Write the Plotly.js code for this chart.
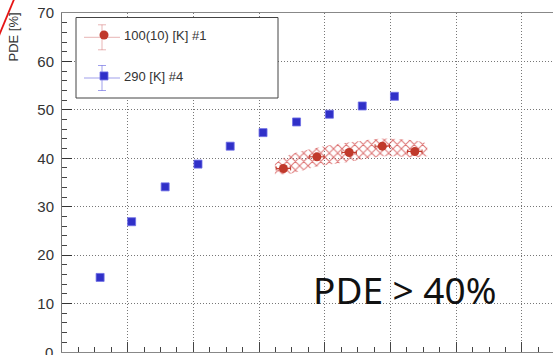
<!DOCTYPE html>
<html><head><meta charset="utf-8">
<script src="https://cdn.plot.ly/plotly-3.0.1.min.js"></script>
<style>html,body{margin:0;padding:0;overflow:hidden;background:#fff}#chart{width:553px;height:355px}</style>
</head><body><div id="chart"></div>
<script>
// ---- data ----
const seriesNames = ['100(10) [K] #1', '290 [K] #4'];
const warmX   = [0.58, 1.06, 1.57, 2.07, 2.56, 3.06, 3.57, 4.07, 4.57, 5.06];
const warmPDE = [15.4, 26.9, 34.1, 38.8, 42.5, 45.3, 47.5, 49.1, 50.8, 52.8];
const coldX    = [3.37, 3.88, 4.37, 4.875, 5.37];
const coldPDE  = [37.9, 40.3, 41.2, 42.5, 41.4];
const coldXErr = [0.11, 0.11, 0.11, 0.11, 0.11];
const coldYErr = [0.4, 0.4, 0.4, 0.4, 0.4];
const bandX    = [3.24, 3.47, 3.88, 4.38, 4.89, 5.40, 5.56];
const bandHigh = [38.9, 40.8, 42.2, 43.3, 44.1, 43.6, 43.0];
const bandLow  = [36.7, 36.8, 38.3, 39.3, 40.4, 40.2, 40.4];
const yTicks   = [10, 20, 30, 40, 50, 60, 70];
const yZeroLabel = '0';
const yTitle   = 'PDE [%]';
const note     = 'PDE > 40%';

// ---- layout helpers (pixel -> paper) ----
const W = 553, H = 355, ML = 62, MR = 0, MT = 13, MB = 3;
const PW = W - ML - MR, PH = H - MT - MB;
const px = x => (x - ML) / PW;
const py = y => (H - MB - y) / PH;

const RED = 'rgb(192,57,43)', BLUE = 'rgb(48,48,200)';
const HATCH = {shape: 'x', size: 6, solidity: 0.3, fgcolor: 'rgba(210,75,75,0.8)', bgcolor: 'rgba(0,0,0,0)'};

const traces = [
  {x: bandX, y: bandLow, type: 'scatter', mode: 'lines',
   line: {width: 0, shape: 'spline', smoothing: 0.8, color: 'rgba(0,0,0,0)'},
   showlegend: false, hoverinfo: 'skip'},
  {x: bandX, y: bandHigh, type: 'scatter', mode: 'lines', fill: 'tonexty',
   line: {width: 0, shape: 'spline', smoothing: 0.8, color: 'rgba(0,0,0,0)'},
   fillcolor: 'rgba(0,0,0,0)', fillpattern: HATCH,
   showlegend: false, hoverinfo: 'skip'},
  {x: coldX, y: coldPDE, type: 'scatter', mode: 'markers', name: seriesNames[0], legend: 'legend',
   marker: {symbol: 'circle', size: 9, color: RED},
   error_x: {type: 'data', array: coldXErr, color: RED, thickness: 1, width: 2},
   error_y: {type: 'data', array: coldYErr, color: RED, thickness: 1, width: 2}},
  {x: warmX, y: warmPDE, type: 'scatter', mode: 'markers', name: seriesNames[1], legend: 'legend2',
   marker: {symbol: 'square', size: 8, color: BLUE, line: {width: 1, color: 'rgba(110,110,230,0.8)'}}}
];

function cross(cx, cy, hx, vy, cap, color) {
  const s = {type: 'line', xref: 'paper', yref: 'paper', layer: 'above', line: {color: color, width: 1}};
  return [
    Object.assign({}, s, {x0: px(cx - hx), x1: px(cx + hx), y0: py(cy), y1: py(cy)}),
    Object.assign({}, s, {x0: px(cx), x1: px(cx), y0: py(cy - vy), y1: py(cy + vy)}),
    Object.assign({}, s, {x0: px(cx - cap), x1: px(cx + cap), y0: py(cy - vy), y1: py(cy - vy)}),
    Object.assign({}, s, {x0: px(cx - cap), x1: px(cx + cap), y0: py(cy + vy), y1: py(cy + vy)})
  ];
}

const shapes = [
  {type: 'rect', xref: 'paper', yref: 'paper', layer: 'above',
   x0: px(76), x1: px(278), y0: py(98), y1: py(17.5),
   fillcolor: '#fff', line: {color: '#444', width: 1}},
  ...cross(102, 37.3, 18, 12.5, 4, 'rgba(205,90,90,0.45)'),
  ...cross(102, 78, 18, 12.5, 4, 'rgba(80,80,220,0.55)'),
  {type: 'line', xref: 'paper', yref: 'paper', layer: 'above',
   x0: px(-2), y0: py(38), x1: px(15), y1: py(-3), line: {color: 'rgb(230,20,20)', width: 1.8}}
];

const GRID = {showgrid: true, gridcolor: '#777', griddash: '1px,2px', gridwidth: 1};

const layout = {
  width: W, height: H,
  margin: {l: ML, r: MR, t: MT, b: MB, pad: 0},
  paper_bgcolor: '#fff', plot_bgcolor: '#fff',
  font: {family: 'Liberation Sans, Arial, sans-serif', color: '#333'},
  xaxis: Object.assign({range: [0, (W - ML) / 65.7], dtick: 1, tick0: 0, showticklabels: false,
          ticks: 'inside', ticklen: 10, tickcolor: '#444',
          showline: true, linecolor: '#888', linewidth: 1, mirror: true,
          zeroline: false,
          minor: {dtick: 0.25, ticks: 'inside', ticklen: 5, tickcolor: '#444', showgrid: false}}, GRID),
  yaxis: Object.assign({range: [0, 70], tickvals: yTicks, ticktext: yTicks.map(String),
          ticks: 'inside', ticklen: 10, tickcolor: '#333',
          tickfont: {size: 15, color: '#333'}, ticklabelstandoff: 4,
          showline: true, linecolor: '#777', linewidth: 1, mirror: false,
          zeroline: false,
          minor: {dtick: 2, ticks: 'inside', ticklen: 5, tickcolor: '#444', showgrid: false}}, GRID),
  legend: {x: px(84), y: py(20), xanchor: 'left', yanchor: 'top', bgcolor: 'rgba(0,0,0,0)',
           borderwidth: 0, font: {size: 13, color: '#333'}},
  legend2: {x: px(84), y: py(61), xanchor: 'left', yanchor: 'top', bgcolor: 'rgba(0,0,0,0)',
            borderwidth: 0, font: {size: 13, color: '#333'}},
  shapes: shapes,
  annotations: [
    {text: yZeroLabel, xref: 'paper', yref: 'y', x: px(55), y: 0, xanchor: 'right', yanchor: 'middle',
     showarrow: false, font: {size: 15, color: '#333'}},
    {text: yTitle, xref: 'paper', yref: 'paper', x: px(13), y: py(37.5), textangle: -90,
     showarrow: false, xanchor: 'center', yanchor: 'middle', font: {size: 13, color: '#333'}},
    {text: note, xref: 'paper', yref: 'paper', x: px(404), y: py(289),
     showarrow: false, xanchor: 'center', yanchor: 'middle',
     font: {family: 'Noto Sans', size: 37, color: '#111'}}
  ]
};

Plotly.newPlot('chart', traces, layout, {displayModeBar: false, staticPlot: true});
</script>
</body></html>
